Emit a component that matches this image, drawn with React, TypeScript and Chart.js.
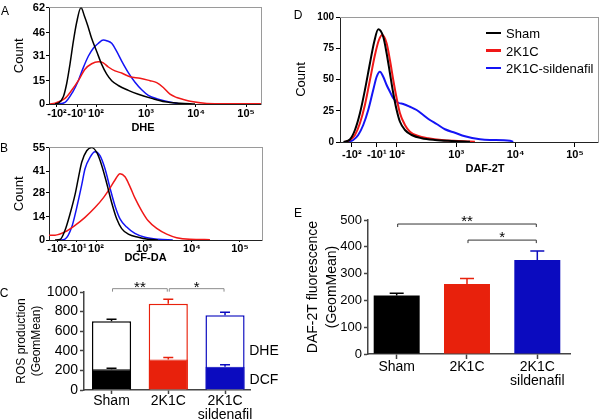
import React, { useEffect, useRef } from 'react';
import { Chart, registerables } from 'chart.js';

Chart.register(...registerables);

const FONT = 'Arial, "Liberation Sans", Helvetica, sans-serif';
Chart.defaults.color = '#000';
Chart.defaults.font.family = FONT;

// ---------------- data ----------------
// flow-cytometry axis: positions in decade units of the display (biexponential) scale
const logTickLabels = ['-10²', '-10¹', '10²', '10³', '10⁴', '10⁵'];
const dheTickPos = [1.22, 1.62, 2, 3, 4, 5];
const dcfTickPos = [1.19, 1.6, 2, 3, 4, 5];
const dafTickPos = [1.24, 1.66, 2, 3, 4, 5];

const dheYTicks = [0, 15, 31, 46, 62];
const dcfYTicks = [0, 14, 28, 41, 55];
const dafYTicks = [0, 25, 50, 75, 100];

const seriesNames = ['Sham', '2K1C', '2K1C-sildenafil'];
const lineColors = ['#000000', '#f01818', '#1414f5'];

// A: DHE histograms
const dheShamX = [1.18, 1.246, 1.346, 1.414, 1.48, 1.546, 1.614, 1.7, 1.766, 1.834, 1.914, 2.014, 2.114, 2.214, 2.314, 2.446, 2.646, 2.846, 3.114, 3.38, 3.68, 3.98];
const dheShamY = [0, 0.5, 4.6, 13.2, 25.7, 40.1, 52.6, 62, 56.8, 50.5, 42.1, 33.8, 25.5, 19.2, 15.0, 11.9, 8.8, 6.3, 3.6, 1.4, 0.5, 0];
const dhe2K1CX = [1.08, 1.18, 1.38, 1.514, 1.646, 1.78, 1.914, 2.046, 2.146, 2.246, 2.38, 2.514, 2.68, 2.88, 3.08, 3.214, 3.346, 3.48, 3.614, 3.746, 3.946, 4.214, 4.68, 5.3];
const dhe2K1CY = [0, 0.5, 3.6, 8.8, 15.0, 22.4, 25.9, 27.1, 26.5, 23.8, 21.3, 19.9, 17.5, 16.6, 15.0, 13.8, 10.6, 6.3, 4.2, 2.9, 1.4, 0.4, 0.2, 0.1];
const dheSildX = [1.24, 1.38, 1.534, 1.646, 1.746, 1.846, 1.946, 2.046, 2.146, 2.214, 2.314, 2.414, 2.514, 2.646, 2.78, 2.914, 3.046, 3.246, 3.446, 3.64, 3.78];
const dheSildY = [0, 1, 7.7, 15.0, 23.4, 30.7, 35.9, 39.0, 41.1, 40.7, 39.0, 33.8, 27.6, 20.2, 14.0, 9.2, 5.6, 3.1, 1.4, 0.3, 0];

// B: DCF-DA histograms
const dcfShamX = [1.146, 1.25, 1.354, 1.458, 1.5625, 1.631, 1.702, 1.806, 1.91, 2.015, 2.119, 2.223, 2.327, 2.431, 2.535, 2.673, 2.881, 3.09, 3.29];
const dcfShamY = [0, 0.3, 5.8, 15.5, 27.0, 36.7, 46.3, 53.1, 55, 52.1, 44.4, 33.8, 22.2, 12.6, 6.8, 3.5, 1.6, 0.4, 0];
const dcf2K1CX = [1.0, 1.146, 1.354, 1.5625, 1.771, 1.979, 2.152, 2.292, 2.396, 2.5, 2.604, 2.708, 2.8125, 2.952, 3.083, 3.265, 3.473, 3.681, 3.958, 4.375];
const dcf2K1CY = [2.9, 2.9, 4.8, 8.7, 13.5, 19.3, 25.1, 30.9, 35.7, 39.5, 37.6, 31.8, 24.9, 17.4, 11.6, 6.9, 3.5, 1.4, 0.4, 0.2];
const dcfSildX = [1.25, 1.354, 1.494, 1.598, 1.702, 1.771, 1.875, 1.979, 2.083, 2.1875, 2.292, 2.396, 2.5, 2.64, 2.81, 3.02, 3.3, 3.6];
const dcfSildY = [0, 0.5, 7.7, 19.3, 32.8, 42.4, 49.2, 52.5, 50.2, 42.4, 30.9, 20.3, 12.6, 7.7, 3.9, 1.6, 0.4, 0];

// D: DAF-2T histograms
const dafShamX = [1.1, 1.207, 1.292, 1.376, 1.46, 1.545, 1.617, 1.685, 1.769, 1.826, 1.882, 1.938, 1.995, 2.051, 2.135, 2.248, 2.417, 2.641, 2.922, 3.231];
const dafShamY = [0, 2.0, 9.6, 23.0, 41.6, 63.0, 80.2, 90.2, 84.2, 71.0, 55.0, 39.0, 25.6, 16.2, 9.6, 5.6, 3.0, 1.6, 0.8, 0.2];
const daf2K1CX = [1.12, 1.207, 1.292, 1.376, 1.46, 1.545, 1.629, 1.696, 1.752, 1.826, 1.882, 1.938, 1.995, 2.051, 2.135, 2.219, 2.359, 2.528, 2.754, 3.034, 3.315];
const daf2K1CY = [0, 1.6, 5.6, 15.0, 29.6, 49.6, 69.6, 81.6, 85.6, 79.0, 65.6, 49.6, 35.0, 23.0, 13.6, 8.2, 4.8, 3.0, 1.6, 0.8, 0.2];
const dafSildX = [1.174, 1.263, 1.347, 1.432, 1.516, 1.6, 1.658, 1.713, 1.769, 1.826, 1.882, 1.938, 2.022, 2.106, 2.219, 2.332, 2.444, 2.556, 2.669, 2.809, 2.978, 3.147, 3.4, 3.568, 3.906, 3.96];
const dafSildY = [0.2, 1.6, 5.6, 13.6, 25.6, 41.6, 52.2, 56.2, 52.2, 45.6, 40.2, 35.0, 31.4, 30.4, 28.2, 25.6, 21.6, 17.6, 14.4, 10.2, 7.4, 4.6, 2.2, 1.6, 1.0, 0];

// C and E: bar charts
const groups = ['Sham', '2K1C', '2K1C sildenafil'];
const barColors = ['#000000', '#e8210c', '#0b0bbf'];
const rosDHE = [702, 881, 763];
const rosDHEErr = [20, 44, 30];
const rosDCF = [212, 312, 237];
const rosDCFErr = [10, 20, 21];
const rosYTicks = [0, 200, 400, 600, 800, 1000];
const dafMean = [218, 261, 351];
const dafErr = [9, 21, 33];
const dafBarYTicks = [0, 100, 200, 300, 400, 500];
const rosBrackets = [
  { from: 0, to: 1, y: 1034, label: '**' },
  { from: 1, to: 2, y: 1034, label: '*' },
];
const dafBrackets = [
  { from: 0, to: 2, y: 485, label: '**' },
  { from: 1, to: 2, y: 425, label: '*' },
];

// ---------------- chart helpers ----------------
function ChartBox({ left, top, width, height, config }: any) {
  const ref = useRef<HTMLCanvasElement>(null);
  useEffect(() => {
    const chart = new Chart(ref.current as HTMLCanvasElement, config());
    return () => chart.destroy();
  }, []);
  return (
    <canvas
      ref={ref}
      width={width}
      height={height}
      style={{ position: 'absolute', left, top, width, height, display: 'block' }}
    />
  );
}

function histConfig(o: any): any {
  const tickFont = { family: FONT, size: o.tickSize, weight: 'bold' };
  return {
    type: 'line',
    data: {
      datasets: o.curves.map((c: any, k: number) => ({
        label: seriesNames[k],
        data: c.xs.map((x: number, i: number) => ({ x, y: c.ys[i] })),
        borderColor: lineColors[k],
        borderWidth: o.lineWidth,
        pointRadius: 0,
        fill: false,
        cubicInterpolationMode: 'monotone',
      })),
    },
    options: {
      animation: false,
      responsive: false,
      events: [],
      layout: { padding: { top: o.padTop, right: o.padRight, left: 0, bottom: 0 } },
      plugins: { legend: { display: false }, tooltip: { enabled: false } },
      scales: {
        x: {
          type: 'linear',
          position: 'bottom',
          min: o.xMin,
          max: o.xMax,
          afterBuildTicks: (s: any) => { s.ticks = o.xTicks.map((v: number) => ({ value: v })); },
          afterFit: (s: any) => { s.height = o.xHeight; },
          ticks: {
            autoSkip: false, maxRotation: 0, minRotation: 0, padding: o.xTickPad,
            font: { family: FONT, size: o.xTickSize, weight: 'bold' }, color: '#000',
            callback: (_v: any, i: number) => logTickLabels[i],
          },
          grid: { drawOnChartArea: false, drawTicks: true, tickLength: o.xTickLen, tickColor: '#000' },
          border: { color: '#222', width: 1 },
        },
        y: {
          type: 'linear',
          position: 'left',
          min: 0,
          max: o.yMax,
          afterBuildTicks: (s: any) => { s.ticks = o.yTicks.map((v: number) => ({ value: v })); },
          afterFit: (s: any) => { s.width = o.yWidth; },
          ticks: { autoSkip: false, padding: o.yTickPad, font: tickFont, color: '#000', callback: (v: any) => String(v) },
          grid: { drawOnChartArea: false, drawTicks: true, tickLength: o.yTickLen, tickColor: '#000' },
          border: { color: '#222', width: 1 },
          title: {
            display: true, text: 'Count', color: '#000',
            font: { family: FONT, size: 13 },
            padding: { top: o.yTitlePad, bottom: 0 },
          },
        },
        x2: {
          type: 'linear', position: 'top', min: o.xMin, max: o.xMax,
          ticks: { display: false }, grid: { display: false },
          border: { color: '#9a9a9a', width: 1 },
          afterFit: (s: any) => { s.height = 0; },
        },
        y2: {
          type: 'linear', position: 'right', min: 0, max: o.yMax,
          ticks: { display: false }, grid: { display: false },
          border: { color: '#9a9a9a', width: 1 },
          afterFit: (s: any) => { s.width = 0; },
        },
      },
    },
  };
}

function annotPlugin(errSpecs: any[], cap: number, brackets: any[], bracketColor: string, starSize: number, starDy: number) {
  return {
    id: 'annot',
    afterDatasetsDraw(chart: any) {
      const ctx = chart.ctx;
      const ys = chart.scales.y;
      const xs = chart.scales.x;
      ctx.save();
      errSpecs.forEach((sp: any) => {
        const meta = chart.getDatasetMeta(sp.ds);
        meta.data.forEach((el: any, i: number) => {
          const x = el.x;
          const y0 = ys.getPixelForValue(sp.means[i]);
          const y1 = ys.getPixelForValue(sp.means[i] + sp.errs[i]);
          ctx.strokeStyle = barColors[i];
          ctx.lineWidth = 1.5;
          ctx.beginPath();
          ctx.moveTo(x, y0);
          ctx.lineTo(x, y1);
          ctx.moveTo(x - cap, y1);
          ctx.lineTo(x + cap, y1);
          ctx.stroke();
        });
      });
      brackets.forEach((b: any) => {
        const x1 = xs.getPixelForValue(b.from) + 1;
        const x2 = xs.getPixelForValue(b.to) - 1;
        const y = ys.getPixelForValue(b.y);
        ctx.strokeStyle = bracketColor;
        ctx.lineWidth = 1;
        ctx.beginPath();
        ctx.moveTo(x1, y + 3);
        ctx.lineTo(x1, y);
        ctx.lineTo(x2, y);
        ctx.lineTo(x2, y + 3);
        ctx.stroke();
        ctx.fillStyle = '#000';
        ctx.font = `${starSize}px ${FONT}`;
        ctx.textAlign = 'center';
        ctx.textBaseline = 'alphabetic';
        ctx.fillText(b.label, (x1 + x2) / 2, y + starDy);
      });
      ctx.restore();
    },
  };
}

function barAxes(o: any): any {
  return {
    x: {
      type: 'linear',
      min: o.xMin,
      max: o.xMax,
      offset: false,
      afterBuildTicks: (s: any) => { s.ticks = groups.map((_g, i) => ({ value: i })); },
      afterFit: (s: any) => { s.height = o.xHeight; },
      ticks: {
        autoSkip: false, maxRotation: 0, minRotation: 0, padding: o.xTickPad, color: '#000',
        font: { family: FONT, size: o.catSize, lineHeight: 1.0 },
        callback: (_v: any, i: number) => {
          const parts = groups[i].split(' ');
          return parts.length > 1 ? parts : parts[0];
        },
      },
      grid: { offset: false, drawOnChartArea: false, drawTicks: true, tickLength: o.xTickLen, tickColor: '#444', tickWidth: 1.5 },
      border: { color: '#444', width: 1.5 },
    },
    y: {
      type: 'linear',
      position: 'left',
      min: 0,
      max: o.yMax,
      afterBuildTicks: (s: any) => { s.ticks = o.yTicks.map((v: number) => ({ value: v })); },
      afterFit: (s: any) => { s.width = o.yWidth; },
      ticks: {
        autoSkip: false, padding: 2, color: '#000',
        font: { family: FONT, size: o.tickSize },
        callback: (v: any) => String(v),
      },
      grid: { drawOnChartArea: false, drawTicks: true, tickLength: 4, tickColor: '#444', tickWidth: 1.5 },
      border: { color: '#444', width: 1.5 },
      title: {
        display: true, text: o.title, color: '#000',
        font: { family: FONT, size: o.titleSize, lineHeight: o.titleLH },
        padding: { top: o.titlePad, bottom: 0 },
      },
    },
  };
}

function rosConfig(): any {
  const common = { grouped: false, barPercentage: 0.69, categoryPercentage: 1 };
  return {
    type: 'bar',
    data: {
      datasets: [
        {
          ...common, label: 'DCF', order: 1,
          data: rosDCF.map((v, i) => ({ x: i, y: v })),
          backgroundColor: barColors, borderColor: barColors, borderWidth: 1,
        },
        {
          ...common, label: 'DHE', order: 2,
          data: rosDHE.map((v, i) => ({ x: i, y: v })),
          backgroundColor: '#ffffff', borderColor: barColors, borderWidth: 1.5,
        },
      ],
    },
    options: {
      animation: false, responsive: false, events: [],
      layout: { padding: { top: 12, right: 40, left: 0, bottom: 0 } },
      plugins: { legend: { display: false }, tooltip: { enabled: false } },
      scales: barAxes({
        xMin: -0.485, xMax: 2.44, xHeight: 30, xTickPad: 0, xTickLen: 4, catSize: 14,
        yMax: 1000, yTicks: rosYTicks, yWidth: 84, tickSize: 14,
        title: ['ROS production', '(GeomMean)'], titleSize: 12, titleLH: 1.25, titlePad: 14.5,
      }),
    },
    plugins: [annotPlugin(
      [{ ds: 0, means: rosDCF, errs: rosDCFErr }, { ds: 1, means: rosDHE, errs: rosDHEErr }],
      5, rosBrackets, '#8c8c8c', 15, 3.5,
    )],
  };
}

function dafConfig(): any {
  return {
    type: 'bar',
    data: {
      datasets: [
        {
          label: 'DAF-2T', grouped: false, barPercentage: 0.654, categoryPercentage: 1,
          data: dafMean.map((v, i) => ({ x: i, y: v })),
          backgroundColor: barColors, borderColor: barColors, borderWidth: 0,
        },
      ],
    },
    options: {
      animation: false, responsive: false, events: [],
      layout: { padding: { top: 20, right: 30, left: 0, bottom: 0 } },
      plugins: { legend: { display: false }, tooltip: { enabled: false } },
      scales: barAxes({
        xMin: -0.408, xMax: 2.465, xHeight: 66, xTickPad: 1, xTickLen: 5, catSize: 14,
        yMax: 500, yTicks: dafBarYTicks, yWidth: 68, tickSize: 13,
        title: ['DAF-2T fluorescence', '(GeomMean)'], titleSize: 14, titleLH: 1.35, titlePad: 3.5,
      }),
    },
    plugins: [annotPlugin([{ ds: 0, means: dafMean, errs: dafErr }], 7, dafBrackets, '#333333', 15, 1.5)],
  };
}

function Txt({ x, y, size, bold, left, children }: any) {
  return (
    <div
      style={{
        position: 'absolute', left: x, top: y,
        transform: left ? 'translate(0,-50%)' : 'translate(-50%,-50%)',
        fontFamily: FONT, fontSize: size, fontWeight: bold ? 700 : 400,
        lineHeight: 1, whiteSpace: 'nowrap', color: '#000',
      }}
    >
      {children}
    </div>
  );
}

export default function App() {
  const legendY = [33, 50.5, 68];
  return (
    <div style={{ position: 'absolute', left: 0, top: 0, width: 600, height: 420, background: '#fff', overflow: 'hidden' }}>
      <ChartBox left={0} top={0} width={280} height={140} config={() => histConfig({
        curves: [{ xs: dheShamX, ys: dheShamY }, { xs: dhe2K1CX, ys: dhe2K1CY }, { xs: dheSildX, ys: dheSildY }],
        xMin: 1.06, xMax: 5.3, xTicks: dheTickPos, yMax: 62, yTicks: dheYTicks,
        padTop: 5, padRight: 19, yWidth: 49, xHeight: 36, xTickLen: 3, xTickPad: 0,
        yTickLen: 3, yTickPad: 1, tickSize: 11, xTickSize: 11, lineWidth: 1.5, yTitlePad: 12,
      })} />
      <ChartBox left={0} top={140} width={280} height={140} config={() => histConfig({
        curves: [{ xs: dcfShamX, ys: dcfShamY }, { xs: dcf2K1CX, ys: dcf2K1CY }, { xs: dcfSildX, ys: dcfSildY }],
        xMin: 1.02, xMax: 5.46, xTicks: dcfTickPos, yMax: 55, yTicks: dcfYTicks,
        padTop: 5, padRight: 18, yWidth: 49, xHeight: 40, xTickLen: 2, xTickPad: 0,
        yTickLen: 3, yTickPad: 1, tickSize: 11, xTickSize: 11, lineWidth: 1.5, yTitlePad: 12,
      })} />
      <ChartBox left={290} top={0} width={310} height={200} config={() => histConfig({
        curves: [{ xs: dafShamX, ys: dafShamY }, { xs: daf2K1CX, ys: daf2K1CY }, { xs: dafSildX, ys: dafSildY }],
        xMin: 1.04, xMax: 5.39, xTicks: dafTickPos, yMax: 100, yTicks: dafYTicks,
        padTop: 17, padRight: 2, yWidth: 50, xHeight: 58, xTickLen: 5, xTickPad: 1,
        yTickLen: 4, yTickPad: 2, tickSize: 10, xTickSize: 11, lineWidth: 2, yTitlePad: 4,
      })} />
      <ChartBox left={0} top={280} width={290} height={140} config={rosConfig} />
      <ChartBox left={300} top={200} width={300} height={220} config={dafConfig} />

      {/* panel letters */}
      <Txt x={5} y={11} size={12}>A</Txt>
      <Txt x={4} y={148} size={12}>B</Txt>
      <Txt x={4} y={293} size={12}>C</Txt>
      <Txt x={298} y={15} size={12}>D</Txt>
      <Txt x={298} y={213} size={12}>E</Txt>

      {/* histogram x-axis titles */}
      <Txt x={143} y={127} size={11} bold>DHE</Txt>
      <Txt x={145.5} y={257} size={11} bold>DCF-DA</Txt>
      <Txt x={485} y={168} size={11} bold>DAF-2T</Txt>

      {/* panel C stack labels */}
      <Txt x={264} y={350} size={14}>DHE</Txt>
      <Txt x={264} y={379} size={14}>DCF</Txt>

      {/* panel D legend */}
      {seriesNames.map((n, i) => (
        <React.Fragment key={n}>
          <div style={{ position: 'absolute', left: 486, top: legendY[i] - 1.25, width: 15, height: 2.5, background: lineColors[i] }} />
          <Txt x={506} y={legendY[i]} size={13} left>{n}</Txt>
        </React.Fragment>
      ))}
    </div>
  );
}
